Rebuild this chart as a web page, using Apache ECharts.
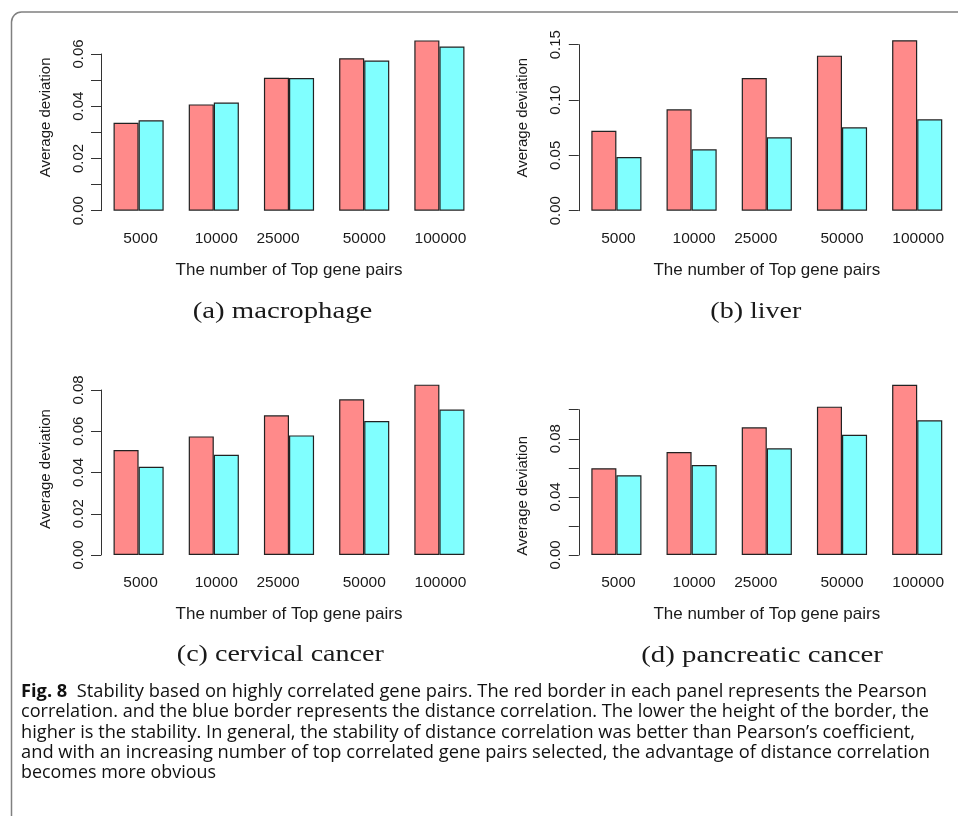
<!DOCTYPE html>
<html>
<head>
<meta charset="utf-8">
<script src="https://cdn.jsdelivr.net/npm/echarts@6/dist/echarts.min.js"></script>
<style>
html,body{margin:0;padding:0;background:#fff;}
#chart{width:958px;height:816px;}
</style>
</head>
<body>
<div id="chart"></div>
<script>
// ---- data ----
const categories = ['5000', '10000', '25000', '50000', '100000'];

const macrophagePearson  = [0.0337, 0.0407, 0.0509, 0.0584, 0.0652];
const macrophageDistance = [0.0346, 0.0414, 0.0508, 0.0575, 0.0629];

const liverPearson  = [0.0723, 0.0916, 0.1199, 0.1401, 0.1540];
const liverDistance = [0.0485, 0.0555, 0.0663, 0.0753, 0.0826];

const cervicalPearson  = [0.0509, 0.0575, 0.0677, 0.0755, 0.0826];
const cervicalDistance = [0.0428, 0.0486, 0.0580, 0.0650, 0.0705];

const pancreaticPearson  = [0.0597, 0.0709, 0.0879, 0.1021, 0.1172];
const pancreaticDistance = [0.0549, 0.0619, 0.0734, 0.0827, 0.0927];

const macrophageTickLabels = ['0.00', '0.02', '0.04', '0.06'];
const liverTickLabels      = ['0.00', '0.05', '0.10', '0.15'];
const cervicalTickLabels   = ['0.00', '0.02', '0.04', '0.06', '0.08'];
const pancreaticTickLabels = ['0.00', '0.04', '0.08'];

const panelTitles = ['(a) macrophage', '(b) liver', '(c) cervical cancer', '(d) pancreatic cancer'];
const xTitle = 'The number of Top gene pairs';
const yTitle = 'Average deviation';

const captionBold = 'Fig. 8';
const captionLines = [
  '  Stability based on highly correlated gene pairs. The red border in each panel represents the Pearson',
  'correlation. and the blue border represents the distance correlation. The lower the height of the border, the',
  'higher is the stability. In general, the stability of distance correlation was better than Pearson\u2019s coefficient,',
  'and with an increasing number of top correlated gene pairs selected, the advantage of distance correlation',
  'becomes more obvious'
];

// ---- layout / style ----
const SANS = '"Liberation Sans", Arial, Helvetica, sans-serif';
const SERIF = '"Liberation Serif", "Times New Roman", serif';
const CAP = '"Open Sans", "Noto Sans", sans-serif';
const RED = '#FF8A8A';
const CYAN = '#80FFFF';
const INK = '#1a1a1a';

const panels = [
  {grid: {left: 101, top: 54, width: 376, height: 156.7}, max: 0.06, interval: 0.01,
   labels: macrophageTickLabels, p: macrophagePearson, d: macrophageDistance, namePad: [0, 0, 0, 30]},
  {grid: {left: 578.8, top: 44.7, width: 376, height: 166}, max: 0.15, interval: 0.05,
   labels: liverTickLabels, p: liverPearson, d: liverDistance, namePad: [0, 0, 0, 20]},
  {grid: {left: 101, top: 390, width: 376, height: 165}, max: 0.08, interval: 0.02,
   labels: cervicalTickLabels, p: cervicalPearson, d: cervicalDistance, namePad: [0, 0, 0, 7]},
  {grid: {left: 578.8, top: 409.7, width: 376, height: 145.3}, max: 0.10, interval: 0.02,
   labels: pancreaticTickLabels, p: pancreaticPearson, d: pancreaticDistance, namePad: [0, 27, 0, 0]}
];

// label nudges (rich padding) per category
const labelRich = {
  l0: {padding: [0, 0, 0, 4]},
  l1: {padding: [0, 0, 0, 5]},
  l2: {padding: [0, 22, 0, 0]},
  l3: {padding: [0, 0, 0, 0]},
  l4: {padding: [0, 0, 0, 2]}
};
for (const k in labelRich) { Object.assign(labelRich[k], {fontFamily: SANS, fontSize: 15.5, color: INK}); }

const grids = [], xAxes = [], yAxes = [], series = [];
panels.forEach((pn, i) => {
  grids.push(Object.assign({containLabel: false}, pn.grid));
  xAxes.push({
    type: 'category', gridIndex: i, data: categories, boundaryGap: true,
    axisLine: {show: false}, axisTick: {show: false},
    axisLabel: {interval: 0, margin: 20, fontFamily: SANS, fontSize: 15.5, color: INK,
      formatter: (v, idx) => '{l' + idx + '|' + v + '}', rich: labelRich},
    name: xTitle, nameLocation: 'middle', nameGap: 51,
    nameTextStyle: {fontFamily: SANS, fontSize: 17, color: INK}
  });
  yAxes.push({
    type: 'value', gridIndex: i, min: 0, max: pn.max, interval: pn.interval,
    splitLine: {show: false},
    axisLine: {show: true, lineStyle: {color: '#333', width: 1}},
    axisTick: {show: true, length: 10, lineStyle: {color: '#333', width: 1}},
    axisLabel: {rotate: 90, margin: 15, fontFamily: SANS, fontSize: 15, color: INK,
      showMinLabel: true, showMaxLabel: true,
      formatter: v => { const s = Number(v).toFixed(2); return pn.labels.includes(s) ? s : ''; }},
    name: yTitle, nameLocation: 'middle', nameGap: 48,
    nameTextStyle: {fontFamily: SANS, fontSize: 15, color: INK, padding: pn.namePad}
  });
  const common = {type: 'bar', xAxisIndex: i, yAxisIndex: i, clip: false, barGap: '0%',
    barCategoryGap: '33.33%', animation: false, silent: true};
  series.push(Object.assign({}, common, {name: 'Pearson', data: pn.p,
    itemStyle: {color: RED, borderColor: '#222', borderWidth: 1.2}}));
  series.push(Object.assign({}, common, {name: 'Distance', data: pn.d,
    itemStyle: {color: CYAN, borderColor: '#222', borderWidth: 1.2}}));
});

// ---- text measuring for width fitting ----
const mctx = document.createElement('canvas').getContext('2d');
function tw(text, font) { mctx.font = font; return mctx.measureText(text).width; }

const graphics = [];
// frame
graphics.push({type: 'rect', shape: {x: 11.5, y: 12, width: 1000, height: 900, r: 10},
  style: {fill: null, stroke: '#808080', lineWidth: 1.5}, silent: true});

// panel subtitles
const subPos = [
  {cx: 282.5, cy: 311.7, w: 179.7},
  {cx: 755.8, cy: 311.7, w: 91},
  {cx: 280.3, cy: 655, w: 207},
  {cx: 762, cy: 656, w: 241.7}
];
const SUBSIZE = 24;
panelTitles.forEach((t, i) => {
  const w = tw(t, SUBSIZE + 'px ' + SERIF);
  const s = subPos[i].w / w;
  graphics.push({type: 'text', x: subPos[i].cx, y: subPos[i].cy, scaleX: s, silent: true,
    style: {text: t, fontFamily: SERIF, fontSize: SUBSIZE, fill: INK, align: 'center', verticalAlign: 'middle'}});
});

// caption
const CAPSIZE = 18.5;
const capLeft = 21;
const capRight = [927, 929, 915, 930, 216];
const capY = [692, 712, 733, 753, 773];
captionLines.forEach((line, i) => {
  let w = tw(line, CAPSIZE + 'px ' + CAP);
  let text = line;
  let rich = undefined;
  if (i === 0) {
    w += tw(captionBold, 'bold ' + CAPSIZE + 'px ' + CAP);
    text = '{b|' + captionBold + '}' + line;
    rich = {b: {fontFamily: CAP, fontSize: CAPSIZE, fontWeight: 'bold', fill: '#111'}};
  }
  const s = (capRight[i] - capLeft) / w;
  const st = {text: text, fontFamily: CAP, fontSize: CAPSIZE, fill: '#111', align: 'left', verticalAlign: 'middle'};
  if (rich) st.rich = rich;
  graphics.push({type: 'text', x: capLeft, y: capY[i], scaleX: s, silent: true, style: st});
});

const chart = echarts.init(document.getElementById('chart'), null, {renderer: 'canvas'});
chart.setOption({
  backgroundColor: '#ffffff',
  animation: false,
  grid: grids,
  xAxis: xAxes,
  yAxis: yAxes,
  series: series,
  graphic: graphics
});
</script>
</body>
</html>
